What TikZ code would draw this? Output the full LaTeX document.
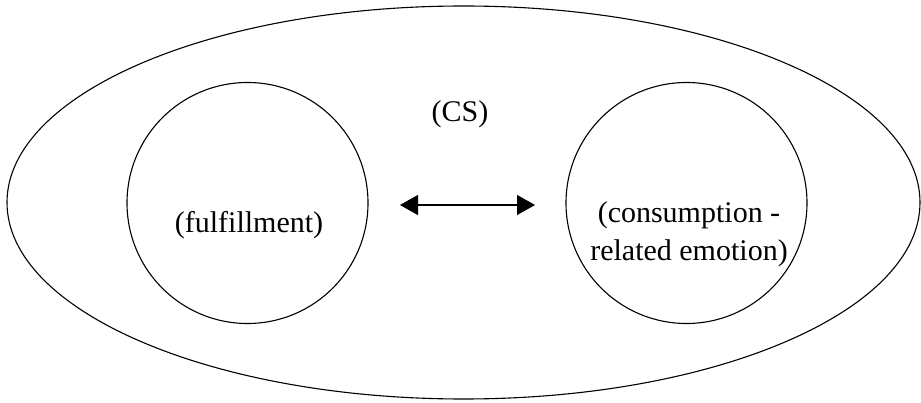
\documentclass[tikz,border=0pt]{standalone}
\usepackage{fontspec}
\setmainfont{Liberation Serif}
\usetikzlibrary{shapes.geometric,arrows.meta}
\begin{document}
\begin{tikzpicture}[x=1pt,y=-1pt,
  outline/.style={draw=black,line width=1.1pt,inner sep=0pt,outer sep=0pt},
  bigring/.style={outline,ellipse,minimum width=913pt,minimum height=393pt},
  ring/.style={outline,circle,minimum size=241pt},
  label/.style={font=\fontsize{30}{36}\selectfont,inner sep=0pt,align=center},
  link/.style={line width=1.1pt,{Triangle[length=18pt,width=20pt]}-{Triangle[length=18pt,width=20pt]}}]
\useasboundingbox (0,0) rectangle (921,403);
\node[bigring] (CS) at (463.5,202.5) {};
\node[ring] (L) at (247.5,203) {};
\node[ring] (R) at (686.5,203) {};
\node[label,anchor=base] (cst) at (460,122) {(CS)};
\node[label,anchor=base] (lt) at (249,233) {(fulfillment)};
\node[label] (rt) at (689,234) {(consumption -\\[2pt]related emotion)};
\draw[link] ([xshift=32pt,yshift=-2pt]L.east) -- ([xshift=-31pt,yshift=-2pt]R.west);
\end{tikzpicture}
\end{document}
